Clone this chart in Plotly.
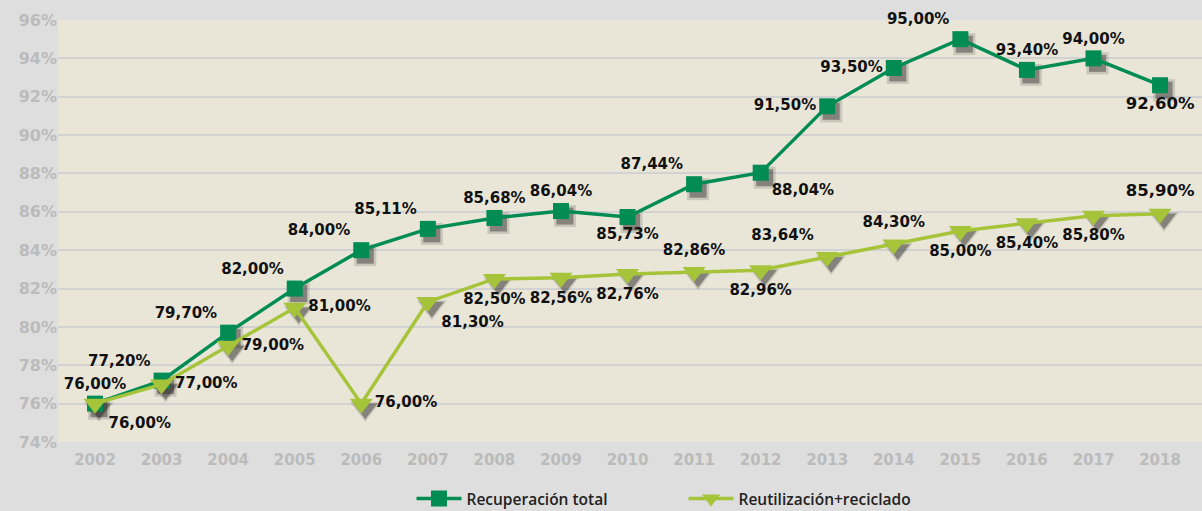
import plotly.graph_objects as go

years = [str(y) for y in range(2002, 2019)]
recuperacion = [76.00, 77.20, 79.70, 82.00, 84.00, 85.11, 85.68, 86.04, 85.73, 87.44,
                88.04, 91.50, 93.50, 95.00, 93.40, 94.00, 92.60]
reutilizacion = [76.00, 77.00, 79.00, 81.00, 76.00, 81.30, 82.50, 82.56, 82.76, 82.86,
                 82.96, 83.64, 84.30, 85.00, 85.40, 85.80, 85.90]

pos_rec = ['top center', 'top left', 'top left', 'top left', 'top left', 'top left', 'top center',
           'top center', 'bottom center', 'top left', 'bottom right', 'middle left', 'middle left',
           'top left', 'top center', 'top center', 'bottom center']
pos_reu = ['bottom right', 'middle right', 'middle right', 'middle right', 'middle right',
           'bottom right', 'bottom center', 'bottom center', 'bottom center', 'top center',
           'bottom center', 'top left', 'top center', 'bottom center', 'bottom center',
           'bottom center', 'top center']


def fmt(v):
    return f"{v:.2f}".replace('.', ',') + '%'


DARK = '#008C52'
LIGHT = '#A6C43A'
sizes = [15] * 16 + [16.5]

fig = go.Figure()

# sombras de los marcadores (eje base oculto y desplazado)
for sz_sq, sz_tr, col in [(22, 26, 'rgba(20,20,20,0.15)'), (17, 21, 'rgba(20,20,20,0.38)')]:
    fig.add_trace(go.Scatter(x=years, y=recuperacion, mode='markers', xaxis='x', yaxis='y',
                             marker=dict(symbol='square', size=sz_sq, color=col),
                             showlegend=False, hoverinfo='skip'))
    fig.add_trace(go.Scatter(x=years, y=reutilizacion, mode='markers', xaxis='x', yaxis='y',
                             marker=dict(symbol='triangle-down', size=sz_tr, color=col),
                             showlegend=False, hoverinfo='skip'))

fig.add_trace(go.Scatter(x=years, y=recuperacion, mode='lines+markers+text', name='Recuperación total',
                         xaxis='x2', yaxis='y2', cliponaxis=False,
                         line=dict(color=DARK, width=3.5),
                         marker=dict(symbol='square', size=16, color=DARK),
                         text=[fmt(v) for v in recuperacion], textposition=pos_rec,
                         textfont=dict(family='DejaVu Sans', size=sizes, color='#111111', weight='bold')))
fig.add_trace(go.Scatter(x=years, y=reutilizacion, mode='lines+markers+text', name='Reutilización+reciclado',
                         xaxis='x2', yaxis='y2', cliponaxis=False,
                         line=dict(color=LIGHT, width=3.5),
                         marker=dict(symbol='triangle-down', size=20, color=LIGHT),
                         text=[fmt(v) for v in reutilizacion], textposition=pos_reu,
                         textfont=dict(family='DejaVu Sans', size=sizes, color='#111111', weight='bold')))

xr = [-0.556, 16.63]
yr = [74, 96]
dx = 4 / 66.56
dy = 5 / 19.18

fig.update_layout(
    width=1202, height=511,
    margin=dict(l=58, r=0, t=20, b=69, autoexpand=False),
    paper_bgcolor='#DEDEDE',
    plot_bgcolor='#E9E6D8',
    font=dict(family='DejaVu Sans', color='#222222'),
    xaxis=dict(type='category', range=[xr[0] - dx, xr[1] - dx], visible=False),
    yaxis=dict(range=[yr[0] + dy, yr[1] + dy], visible=False),
    xaxis2=dict(type='category', range=xr, overlaying='x', showgrid=False, zeroline=False,
                tickfont=dict(size=15, color='#BBBBBB', weight='bold'), ticks='',
                ticklabelstandoff=7),
    yaxis2=dict(range=yr, dtick=2, ticksuffix='%', overlaying='y', side='left',
                gridcolor='#D2D2D2', gridwidth=1.5, zeroline=False,
                tickfont=dict(size=16, color='#BBBBBB', weight='bold'), ticks=''),
    legend=dict(orientation='h', x=0.309, xanchor='left', y=-0.135, yanchor='middle',
                font=dict(family='Open Sans', size=15.5, color='#222222', weight=600),
                traceorder='normal', itemwidth=45, entrywidth=212),
    showlegend=True,
)

fig.write_html("out.html", config={'displayModeBar': False},
               post_script="document.body.style.margin='0';")
